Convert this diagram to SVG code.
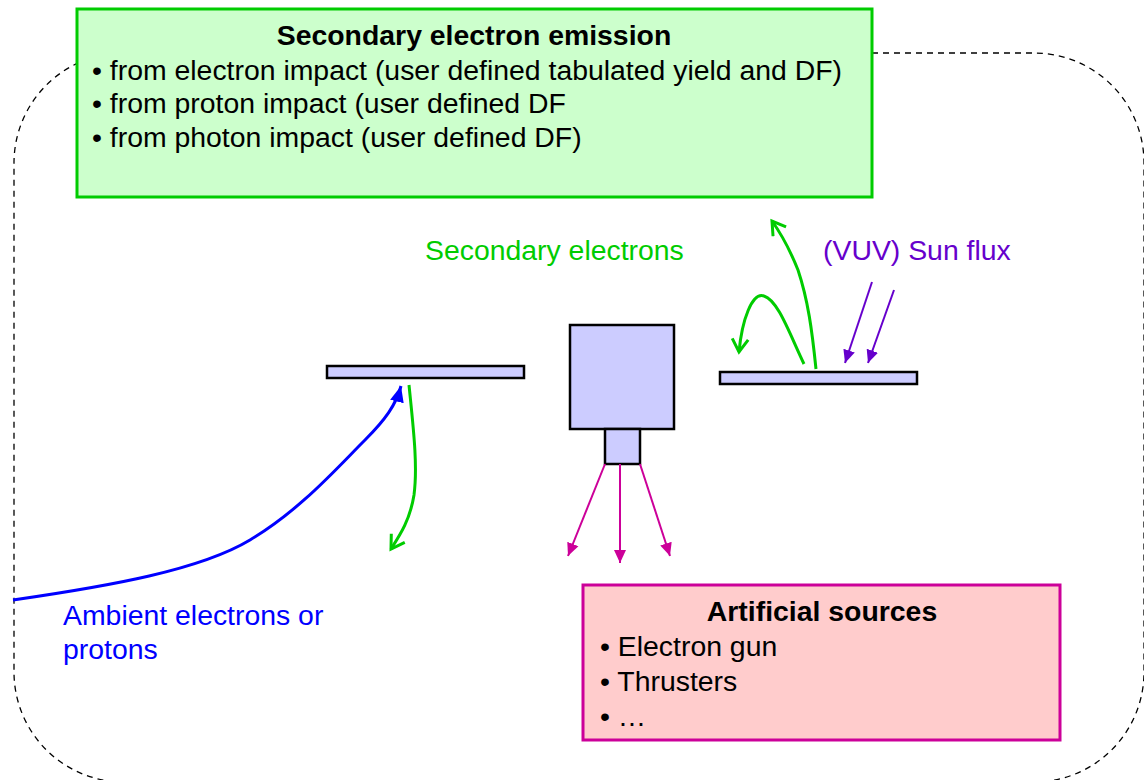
<svg xmlns="http://www.w3.org/2000/svg" width="1144" height="780" viewBox="0 0 1144 780">
<style>
text { font-family: "Liberation Sans", Arial, sans-serif; font-size: 28.4px; }
.b { font-weight: bold; }
.part { fill: #CCCCFF; stroke: #000; stroke-width: 2.5; }
</style>
<defs>
<marker id="blueHead" markerUnits="userSpaceOnUse" markerWidth="18" markerHeight="16" refX="16" refY="8" orient="auto"><path d="M0,1 L16,8 L0,15 Z" fill="#0000FF"/></marker>
<marker id="magHead" markerUnits="userSpaceOnUse" markerWidth="16" markerHeight="14" refX="13" refY="7" orient="auto"><path d="M0,1 L13,7 L0,13 Z" fill="#CC0099"/></marker>
<marker id="purHead" markerUnits="userSpaceOnUse" markerWidth="16" markerHeight="14" refX="13" refY="7" orient="auto"><path d="M0,1 L13,7 L0,13 Z" fill="#6600CC"/></marker>
<marker id="grnHead" markerUnits="userSpaceOnUse" markerWidth="20" markerHeight="20" refX="14" refY="10" orient="auto"><path d="M1,2 L14,10 L1,18" fill="none" stroke="#00CC00" stroke-width="3"/></marker>
</defs>
<rect x="14" y="53" width="1130" height="729" rx="110" ry="110" fill="none" stroke="#000" stroke-width="1.3" stroke-dasharray="6,5"/>
<g id="secondary-emission">
<rect x="77" y="9" width="795" height="188" fill="#CCFFCC" stroke="#00CC00" stroke-width="3"/>
<text class="b" x="474" y="45" text-anchor="middle">Secondary electron emission</text>
<text x="92" y="80">• from electron impact (user defined tabulated yield and DF)</text>
<text x="92" y="113">• from proton impact (user defined DF</text>
<text x="92" y="147">• from photon impact (user defined DF)</text>
</g>
<g id="artificial-sources">
<rect x="583" y="585" width="477" height="155" fill="#FFCCCC" stroke="#CC0099" stroke-width="3"/>
<text class="b" x="822" y="621" text-anchor="middle">Artificial sources</text>
<text x="600" y="656">• Electron gun</text>
<text x="600" y="691">• Thrusters</text>
<text x="600" y="726">• …</text>
</g>
<g id="left-plate"><rect class="part" x="327" y="366" width="197" height="12"/></g>
<g id="right-plate"><rect class="part" x="720" y="372" width="197" height="12"/></g>
<g id="spacecraft">
<rect class="part" x="570" y="325" width="104" height="104"/>
<rect class="part" x="605" y="429" width="35" height="35"/>
</g>
<g id="connectors" fill="none">
<path d="M13,600 C110,586 200,570 250,540 C300,510 335,470 365,440 C385,420 396,405 401,386" stroke="#0000FF" stroke-width="3" marker-end="url(#blueHead)"/>
<path d="M409,385 C413,425 418,465 414,495 C410,520 400,535 391,549" stroke="#00CC00" stroke-width="3" marker-end="url(#grnHead)"/>
<path d="M816,369 C812,330 808,300 798,270 C790,250 782,235 772,221" stroke="#00CC00" stroke-width="3" marker-end="url(#grnHead)"/>
<path d="M804,364 C790,335 778,300 764,296 C752,292 742,320 739,352" stroke="#00CC00" stroke-width="3" marker-end="url(#grnHead)"/>
<path d="M605,464 L568,556" stroke="#CC0099" stroke-width="2" marker-end="url(#magHead)"/>
<path d="M620,464 L620,563" stroke="#CC0099" stroke-width="2" marker-end="url(#magHead)"/>
<path d="M640,464 L670,556" stroke="#CC0099" stroke-width="2" marker-end="url(#magHead)"/>
<path d="M872,282 L845,363" stroke="#6600CC" stroke-width="2" marker-end="url(#purHead)"/>
<path d="M894,290 L868,363" stroke="#6600CC" stroke-width="2" marker-end="url(#purHead)"/>
</g>
<g id="labels">
<text x="425" y="260" fill="#00CC00">Secondary electrons</text>
<text x="823" y="260" fill="#6600CC">(VUV) Sun flux</text>
<text x="63" y="625" fill="#0000FF">Ambient electrons or</text>
<text x="63" y="659" fill="#0000FF">protons</text>
</g>
</svg>
